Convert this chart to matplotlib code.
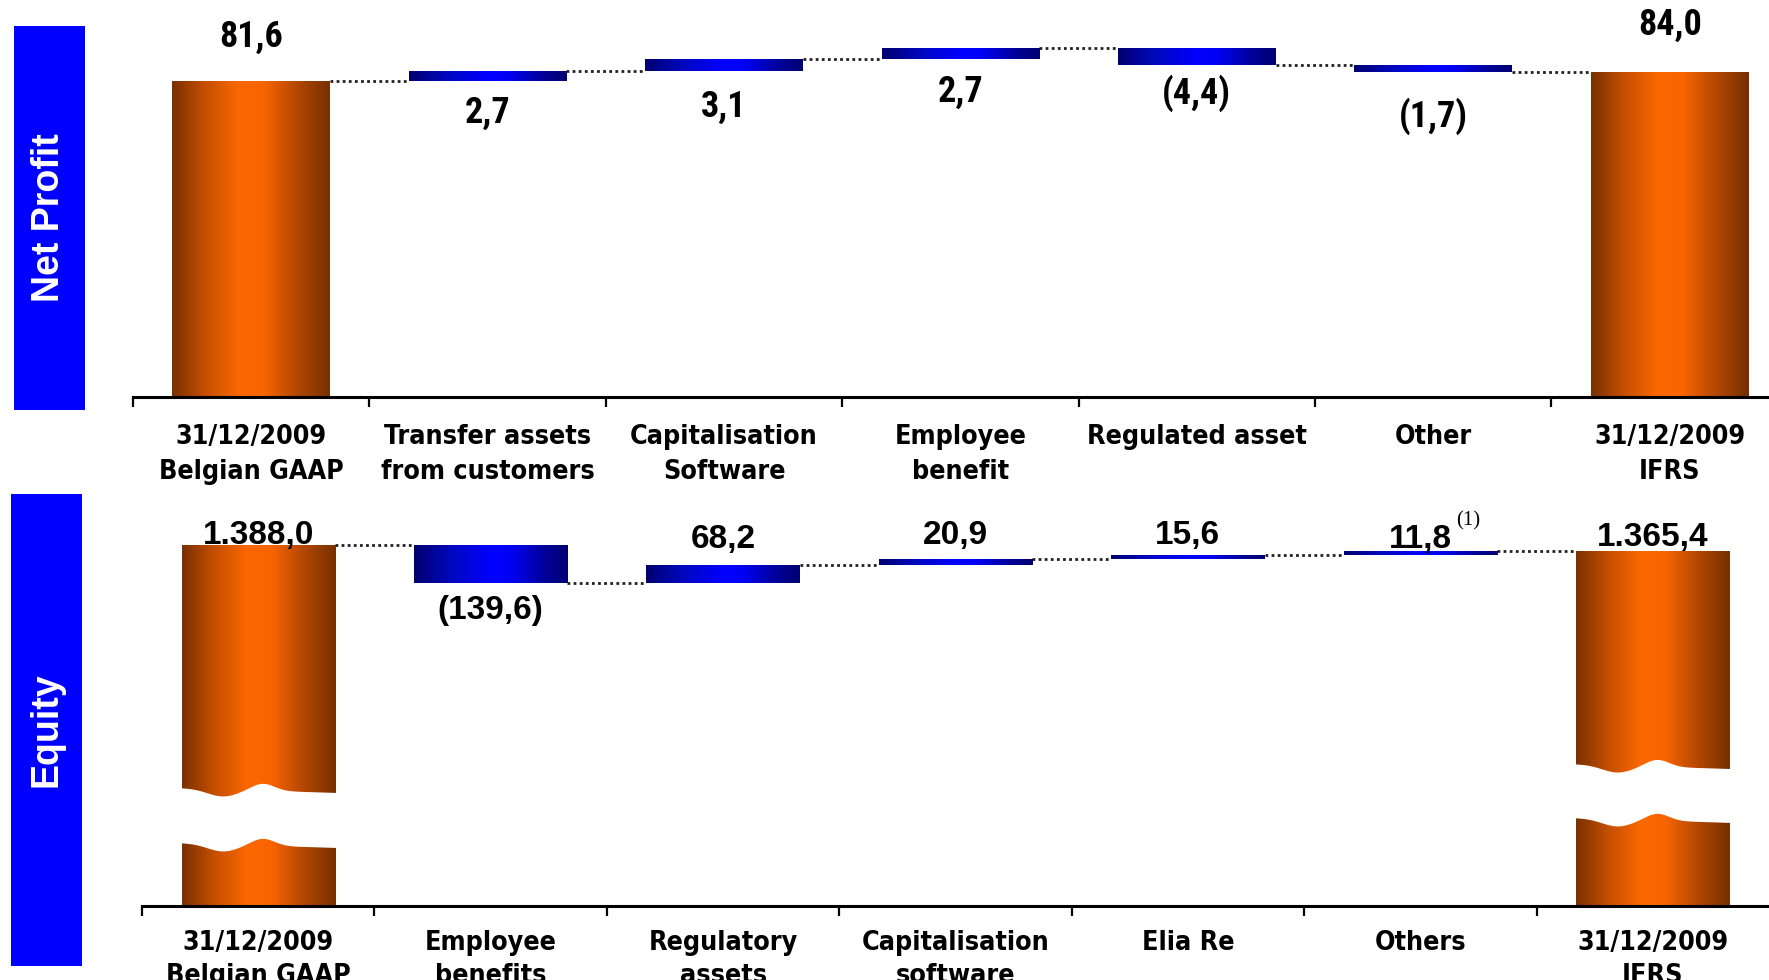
import numpy as np
import matplotlib
matplotlib.use("Agg")
import matplotlib.pyplot as plt
from matplotlib import font_manager
from matplotlib.colors import LinearSegmentedColormap
from matplotlib.patches import Rectangle, Polygon
from matplotlib.transforms import offset_copy

# ---------------- data (EUR million) ----------------
np_categories = ["31/12/2009\nBelgian GAAP", "Transfer assets\nfrom customers",
                 "Capitalisation\nSoftware", "Employee\nbenefit", "Regulated asset",
                 "Other", "31/12/2009\nIFRS"]
np_start = 81.6
np_changes = [2.7, 3.1, 2.7, -4.4, -1.7]
np_end = 84.0
np_labels = ["81,6", "2,7", "3,1", "2,7", "(4,4)", "(1,7)", "84,0"]

eq_categories = ["31/12/2009\nBelgian GAAP", "Employee\nbenefits", "Regulatory\nassets",
                 "Capitalisation\nsoftware", "Elia Re", "Others", "31/12/2009\nIFRS"]
eq_start = 1388.0
eq_changes = [-139.6, 68.2, 20.9, 15.6, 11.8]
eq_end = 1365.4
eq_labels = ["1.388,0", "(139,6)", "68,2", "20,9", "15,6", "11,8", "1.365,4"]

# ---------------- layout ----------------
W, H = 1769, 980
fig = plt.figure(figsize=(W / 100, H / 100), dpi=100)
fig.patch.set_facecolor("white")


def font_path(family, **kw):
    try:
        return font_manager.findfont(font_manager.FontProperties(family=family, **kw),
                                     fallback_to_default=False)
    except Exception:
        return None


def pick_narrow_bold():
    """Find a narrow bold sans for the net-profit figures."""
    for fam, kw, size in [("Liberation Sans Narrow", {}, 27.5),
                          ("Roboto Condensed", {}, 26),
                          ("Noto Sans", {"stretch": "condensed"}, 26),
                          ("Open Sans", {"stretch": "condensed"}, 25),
                          ("Noto Sans Condensed", {}, 26)]:
        p = font_path(fam, weight="bold", **kw)
        if p and ("Narrow" in p or "Condensed" in p or "condensed" in p.lower()):
            return dict(family=fam, weight="bold", size=size, **kw)
    return dict(family="Liberation Sans", weight="bold", size=25)


top_val_font = pick_narrow_bold()
bot_val_font = dict(family="Liberation Sans", weight="bold", size=24)

cond = font_path("DejaVu Sans", weight="bold", stretch="condensed")
if cond and "Condensed" in cond:
    cat_font = dict(family="DejaVu Sans", weight="bold", stretch="condensed", size=19.3)
    cat_ls_top, cat_ls_bot = 1.46, 1.36
else:
    cat_font = dict(family="DejaVu Sans", weight="bold", size=17.4)
    cat_ls_top, cat_ls_bot = 1.62, 1.52

orange = LinearSegmentedColormap.from_list(
    "bar_orange", [(0.0, "#793000"), (0.2, "#c24e00"), (0.42, "#fb6700"),
                   (0.58, "#f86500"), (0.8, "#b04600"), (1.0, "#773000")])
blue = LinearSegmentedColormap.from_list(
    "bar_blue", [(0.0, "#000070"), (0.25, "#0008c0"), (0.5, "#0000ff"),
                 (0.62, "#0000f8"), (0.85, "#00009a"), (1.0, "#000070")])
GRAD = np.linspace(0, 1, 256).reshape(1, -1)


def gradient_bars(ax, xs, lows, highs, width, cmap):
    lows = np.asarray(lows, float)
    highs = np.asarray(highs, float)
    bars = ax.bar(xs, highs - lows, width=width, bottom=lows, color="none",
                  edgecolor="none", zorder=2)
    for b in bars:
        x0, y0 = b.get_x(), b.get_y()
        im = ax.imshow(GRAD, extent=[x0, x0 + b.get_width(), y0, y0 + b.get_height()],
                       cmap=cmap, aspect="auto", interpolation="bilinear",
                       origin="lower", zorder=2)
        im.set_clip_path(b)
    return bars


def style_axis(ax, n, xmax):
    for s in ("top", "left", "right"):
        ax.spines[s].set_visible(False)
    ax.spines["bottom"].set_linewidth(2.2)
    ax.set_yticks([])
    ax.set_xticks(np.arange(-0.5, n - 0.5, 1.0))
    ax.set_xticklabels([])
    ax.tick_params(axis="x", direction="out", length=7, width=1.6, color="black")
    ax.set_xlim(-0.5, xmax)
    ax.patch.set_alpha(0)


def category_labels(ax, cats, gap_px, ls):
    tr = offset_copy(ax.get_xaxis_transform(), fig=fig, x=0, y=-gap_px, units="dots")
    for i, c in enumerate(cats):
        ax.text(i, 0, c, transform=tr, ha="center", va="top", linespacing=ls,
                clip_on=False, **cat_font)


def value_labels(ax, xs, anchors, texts, gaps, font):
    for x, a, t, g in zip(xs, anchors, texts, gaps):
        ax.annotate(t, xy=(x, a), xytext=(0, g), textcoords="offset pixels",
                    ha="center", va="center", annotation_clip=False, **font)


def connectors(ax, xs, levels, width):
    for i, lev in enumerate(levels):
        ax.plot([xs[i] + width / 2, xs[i + 1] - width / 2], [lev, lev],
                color="#202020", lw=2.0, ls=(0, (1, 1.2)), zorder=1)


def wave_break(ax, xc, width, lo, hi, px_per_unit):
    """White wavy band cutting through a tall bar (axis break)."""
    t = np.linspace(0, 1, 120)
    shape = (7 * np.exp(-((t - 0.28) / 0.13) ** 2)
             - 7 * np.exp(-((t - 0.53) / 0.10) ** 2) + 5 * t - 2)
    dy = shape / px_per_unit
    xs = xc - width / 2 - 0.02 + t * (width + 0.04)
    top = hi - dy
    bot = lo - dy
    poly = np.vstack([np.column_stack([xs, top]), np.column_stack([xs[::-1], bot[::-1]])])
    ax.add_patch(Polygon(poly, closed=True, facecolor="white", edgecolor="none", zorder=3))


# ---------------- Net Profit panel ----------------
ax1 = fig.add_axes([133 / W, 1 - 397 / H, 1 - 133 / W, 397 / H])
n = len(np_categories)
x = np.arange(n)
w1 = 0.667
cum1 = np_start + np.cumsum(np_changes)
prev1 = np.concatenate([[np_start], cum1[:-1]])
gradient_bars(ax1, [0, n - 1], [0, 0], [np_start, np_end], w1, orange)
gradient_bars(ax1, x[1:n - 1], np.minimum(prev1, cum1), np.maximum(prev1, cum1), w1, blue)
connectors(ax1, x, np.concatenate([[np_start], cum1]), w1)
ax1.set_ylim(0, 102.6)
style_axis(ax1, n, 6.42)
anch1 = [np_start] + list(np.minimum(prev1, cum1)) + [np_end]
gaps1 = [44, -32, -36, -33, -28, -44, 47]
value_labels(ax1, x, anch1, np_labels, gaps1, top_val_font)
category_labels(ax1, np_categories, 27, cat_ls_top)

# ---------------- Equity panel ----------------
ax2 = fig.add_axes([142 / W, 1 - 906 / H, 1 - 142 / W, 406 / H])
w2 = 0.66
ylo, yhi = 75.3, 1551.7
ax2.set_ylim(ylo, yhi)
ppu = 406 / (yhi - ylo)
cum2 = eq_start + np.cumsum(eq_changes)
prev2 = np.concatenate([[eq_start], cum2[:-1]])
gradient_bars(ax2, [0, n - 1], [ylo, ylo], [eq_start, eq_end], w2, orange)
gradient_bars(ax2, x[1:n - 1], np.minimum(prev2, cum2), np.maximum(prev2, cum2), w2, blue)
connectors(ax2, x, np.concatenate([[eq_start], cum2]), w2)
wave_break(ax2, 0, w2, 297, 497, ppu)
wave_break(ax2, n - 1, w2, 388, 584, ppu)
style_axis(ax2, n, 6.5)
anch2 = [eq_start] + [min(p, c) if c < p else max(p, c) for p, c in zip(prev2, cum2)] + [eq_end]
gaps2 = [10, -27, 25, 23, 19, 12, 14]
value_labels(ax2, x, anch2, eq_labels, gaps2, bot_val_font)
ax2.annotate("(1)", xy=(5, max(prev2[-1], cum2[-1])), xytext=(48, 31),
             textcoords="offset pixels", ha="center", va="center",
             family="Liberation Serif", size=15, annotation_clip=False)
category_labels(ax2, eq_categories, 24, cat_ls_bot)

# ---------------- side headers ----------------
for (x0, y0, x1, y1), label in [((13.5, 26, 84.6, 410), "Net Profit"),
                                  ((11, 494, 82, 966), "Equity")]:
    fig.patches.append(Rectangle((x0 / W, 1 - y1 / H), (x1 - x0) / W, (y1 - y0) / H,
                                 transform=fig.transFigure, facecolor="#0000ff",
                                 edgecolor="none", zorder=0))
    fig.text((x0 + x1) / 2 / W, 1 - (y0 + y1) / 2 / H, label, rotation=90,
             ha="center", va="center", color="white", family="Liberation Sans",
             weight="bold", size=27)

fig.savefig("out.png", dpi=100, facecolor="white")
